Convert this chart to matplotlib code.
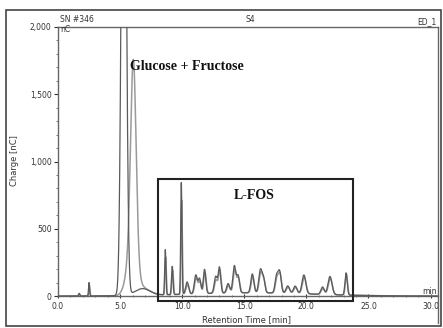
import numpy as np
import matplotlib
matplotlib.use("Agg")
import matplotlib.pyplot as plt
from matplotlib.patches import Rectangle
from matplotlib.ticker import FixedLocator, MultipleLocator, FuncFormatter

# ---- data (retention time [min], heights [nC], widths [min]) ----
peak_rt = [1.7, 2.5, 5.3, 6.04, 5.9, 6.8, 8.64, 9.2, 9.93, 10.4, 11.1, 11.4, 11.8, 12.7, 13.0,
           13.7, 14.2, 14.5, 15.65, 16.3, 16.55, 17.6, 17.85, 18.5, 19.1, 19.8, 21.3,
           21.9, 23.2, 15.5]
height_a = [20, 100, 5000, 0, 0, 50, 335, 210, 830, 90, 140, 110, 180, 125, 190,
            70, 200, 125, 140, 170, 100, 125, 155, 55, 55, 140, 55,
            135, 165, 25]
height_b = [15, 80, 0, 1450, 300, 50, 280, 180, 700, 70, 120, 90, 160, 100, 170,
            55, 170, 110, 120, 150, 85, 110, 140, 45, 45, 125, 45,
            120, 150, 25]
peak_w = [0.05, 0.04, 0.18, 0.22, 0.4, 0.6, 0.05, 0.06, 0.05, 0.12, 0.12, 0.1, 0.1, 0.12, 0.1,
          0.12, 0.12, 0.11, 0.12, 0.13, 0.11, 0.12, 0.12, 0.14, 0.14, 0.15, 0.13,
          0.16, 0.09, 5.0]

x_ticks = [0, 5, 10, 15, 20, 25, 30]
y_ticks = [0, 500, 1000, 1500, 2000]
y_minor = list(range(100, 2000, 100))

W, H = 443, 328
fig = plt.figure(figsize=(W / 100, H / 100), dpi=100)
fig.patch.set_facecolor("white")

ax = fig.add_axes([58 / W, (H - 323) / H, 380 / W, 296 / H])
ax.set_xlim(0, 30.6)
ax.set_ylim(-200, 2000)

t = np.linspace(0, 30.6, 6000)


def trace(heights, shift=0.0):
    y = np.zeros_like(t)
    for rt, h, w in zip(peak_rt, heights, peak_w):
        y += h * np.exp(-0.5 * ((t - rt - shift) / w) ** 2)
    return y


ya = trace(height_a)
yb = trace(height_b, 0.03)
ax.plot(t, yb, color="#9a9a9a", lw=1.1, zorder=2)
ax.plot(t, ya, color="#5a5a5a", lw=0.9, zorder=3)

axis_col = "#666666"
for s in ["left", "top", "right", "bottom"]:
    ax.spines[s].set_color(axis_col)
    ax.spines[s].set_linewidth(1.0)
ax.spines["bottom"].set_position(("data", 0))
ax.spines["left"].set_bounds(0, 2000)

ax.set_xticks(x_ticks)
ax.set_xticklabels([f"{v:.1f}" for v in x_ticks])
ax.xaxis.set_minor_locator(MultipleLocator(1))
ax.set_yticks(y_ticks)
ax.yaxis.set_major_formatter(FuncFormatter(lambda v, p: f"{int(v):,}"))
ax.yaxis.set_minor_locator(FixedLocator(y_minor))
ax.tick_params(axis="both", which="major", labelsize=5.5, colors="#333333",
               length=3, width=0.8, pad=1.5)
ax.tick_params(axis="both", which="minor", length=1.5, width=0.6, colors=axis_col)
ax.tick_params(axis="x", which="both", direction="inout")
ax.tick_params(axis="x", which="major", pad=3)

ax.set_ylabel("Charge [nC]", fontsize=6, color="#333333")
ax.yaxis.set_label_coords(-0.103, 0.55)

# L-FOS box
ax.add_patch(Rectangle((8.05, -35), 23.75 - 8.05, 870 + 35, fill=False,
                       edgecolor="#222222", lw=1.5, zorder=4))
ax.text(15.78, 751, "L-FOS", fontsize=10, fontweight="bold",
        family="Liberation Serif", ha="center", va="center", color="#111111")
ax.text(5.8, 1710, "Glucose + Fructose", fontsize=10, fontweight="bold",
        family="Liberation Serif", ha="left", va="center", color="#111111")


def ftext(x, y, s, **kw):
    fig.text(x / W, 1 - y / H, s, **kw)


ftext(60, 20, "SN #346", fontsize=5.5, color="#333333", ha="left", va="center")
ftext(60, 29, "nC", fontsize=5.5, color="#333333", ha="left", va="center")
ftext(250, 20, "S4", fontsize=5.5, color="#333333", ha="center", va="center")
ftext(437, 22, "ED_1", fontsize=5.5, color="#333333", ha="right", va="center")
ftext(437, 291, "min", fontsize=5.5, color="#333333", ha="right", va="center")
ftext(247, 320, "Retention Time [min]", fontsize=6, color="#333333",
      ha="center", va="center")

# outer frame
fig.patches.append(Rectangle((6 / W, (H - 326) / H), 435 / W, 316 / H,
                             transform=fig.transFigure, fill=False,
                             edgecolor="#444444", lw=1.2))

fig.savefig("out.png", dpi=100)
